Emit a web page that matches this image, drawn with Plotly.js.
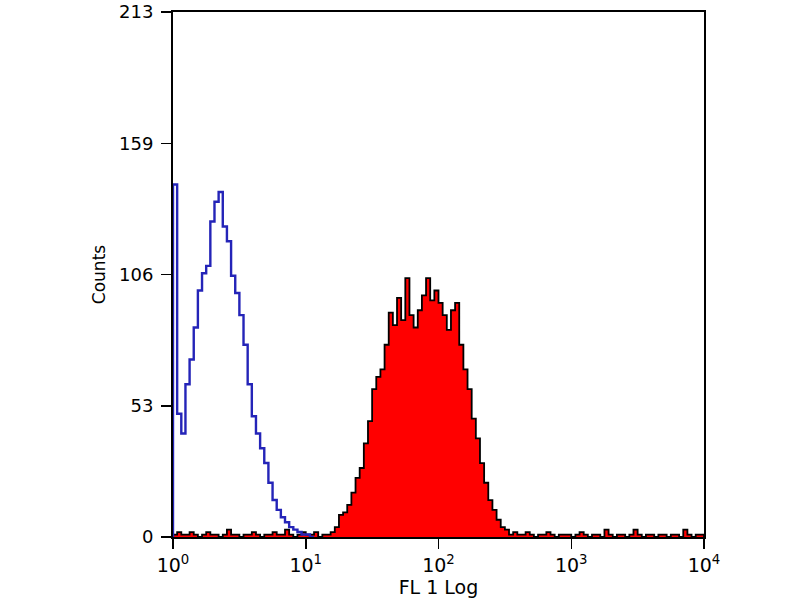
<!DOCTYPE html>
<html>
<head>
<meta charset="utf-8">
<script src="https://cdn.plot.ly/plotly-3.0.1.min.js"></script>
<style>html,body{margin:0;padding:0;background:#fff;}#chart{width:800px;height:600px;}</style>
</head>
<body>
<div id="chart"></div>
<script>
// 128 log channels over 4 decades (32 channels per decade)
const channelsPerDecade = 32;

// Isotype control (blue open histogram), channels 0..33
const blueCounts = [143,50,42,62,72,85,100,107,110,128,136,140,126,120,106,99,90,78,62,49,42,36,30,22,15,11,8,6,4,3,2,1,1,0];

// Stained sample (red filled histogram), channels 0..36 / 37..81 / 82..127
const redLowNoise = [1,2,1,1,2,1,0,1,2,1, 1,0,1,3,1,1,0,1,1,2, 1,0,1,1,2,1,1,3,1,0, 1,2,1,1,2,0,1];
const redPeak = [1,2,4,9,10,13,18,24,28,38, 47,60,65,68,78,91,86,97,88,105, 90,85,92,98,105,96,100,95,90,84, 92,95,78,68,60,48,40,30,22,15, 11,7,4,3,1];
const redHighNoise = [2,1,1,2,1,0,1,1,2,1, 0,1,1,1,0,1,2,1,0,1, 1,0,3,1,0,1,1,0,1,3, 1,0,1,1,0,1,1,0,1,1, 0,3,1,0,1,1];
const redCounts = redLowNoise.concat(redPeak, redHighNoise);

const yTickVals = [0, 53.25, 106.5, 159.75, 213];
const yTickText = ['0', '53', '106', '159', '213'];
const xTickVals = [1, 10, 100, 1000, 10000];
const xTickText = ['10<sup>0</sup>', '10<sup>1</sup>', '10<sup>2</sup>', '10<sup>3</sup>', '10<sup>4</sup>'];

function edge(i) { return Math.pow(10, i / channelsPerDecade); }
function stepOutline(counts) {
  const xs = [edge(0)], ys = [0];
  counts.forEach((v, i) => { xs.push(edge(i), edge(i + 1)); ys.push(v, v); });
  xs.push(edge(counts.length)); ys.push(0);
  return {x: xs, y: ys};
}

const red = stepOutline(redCounts);
const blue = stepOutline(blueCounts);

const traces = [
  {x: red.x, y: red.y, type: 'scatter', mode: 'lines', fill: 'tozeroy',
   fillcolor: '#ff0000', line: {color: '#000000', width: 1.8}, hoverinfo: 'skip'},
  {x: blue.x, y: blue.y, type: 'scatter', mode: 'lines',
   line: {color: '#2424b8', width: 2.4}, hoverinfo: 'skip'}
];

const fontFam = 'DejaVu Sans, Verdana, sans-serif';
const layout = {
  width: 800, height: 600,
  margin: {l: 173, r: 96, t: 12, b: 63, pad: 0},
  paper_bgcolor: '#ffffff', plot_bgcolor: '#ffffff',
  showlegend: false,
  font: {family: fontFam, color: '#000', size: 18},
  xaxis: {
    type: 'log', range: [0, 4], tickvals: xTickVals, ticktext: xTickText,
    ticks: 'outside', ticklen: 10, tickwidth: 1.5, tickcolor: '#000',
    showline: true, linecolor: '#000', linewidth: 2, mirror: true,
    showgrid: false, zeroline: false,
    tickfont: {size: 19, family: fontFam, color: '#000'},
    title: {text: 'FL 1 Log', font: {size: 19, family: fontFam, color: '#000'}, standoff: 2}
  },
  yaxis: {
    range: [0, 213], tickvals: yTickVals, ticktext: yTickText,
    ticks: 'outside', ticklen: 10, tickwidth: 1.5, tickcolor: '#000',
    ticklabelstandoff: 4,
    showline: true, linecolor: '#000', linewidth: 2, mirror: true,
    showgrid: false, zeroline: false,
    tickfont: {size: 18, family: fontFam, color: '#000'},
    title: {text: 'Counts', font: {size: 17, family: fontFam, color: '#000'}, standoff: 9}
  }
};

Plotly.newPlot('chart', traces, layout, {staticPlot: true, displayModeBar: false});
</script>
</body>
</html>
